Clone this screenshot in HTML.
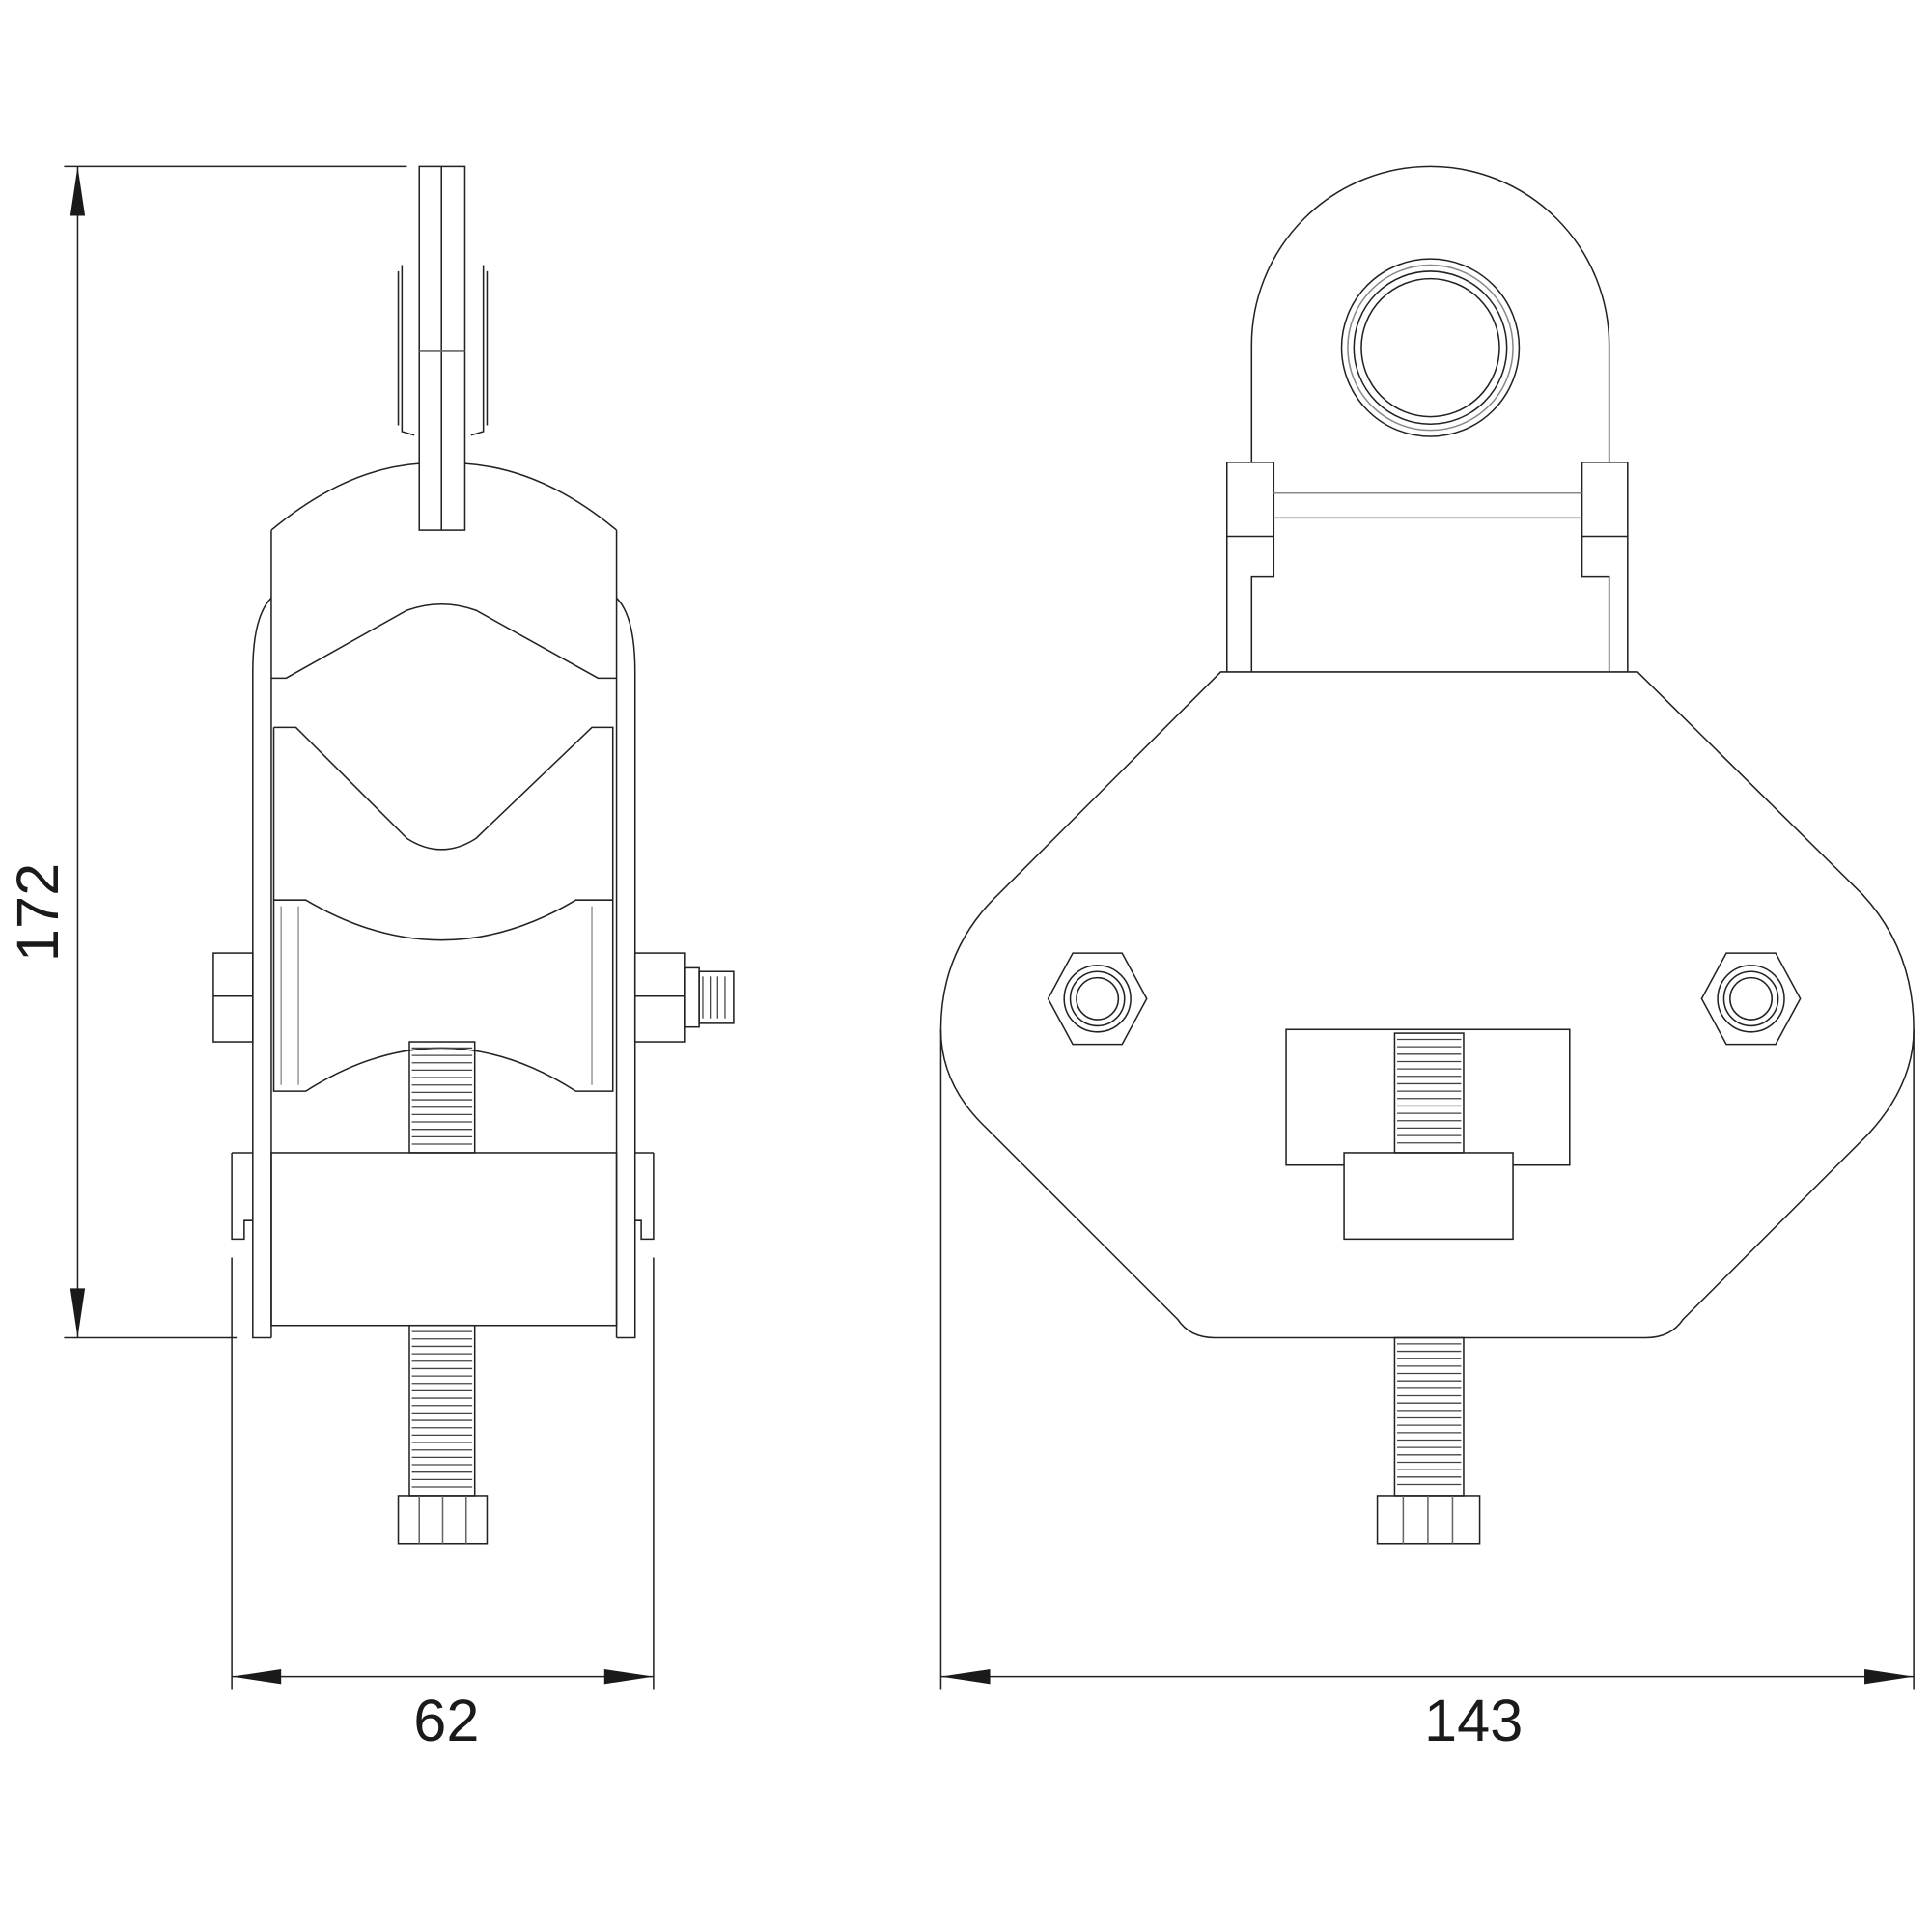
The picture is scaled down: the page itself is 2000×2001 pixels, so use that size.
<!DOCTYPE html>
<html><head><meta charset="utf-8"><style>
html,body{margin:0;padding:0;background:#fff}
svg{display:block}
text{font-family:"Liberation Sans",sans-serif;fill:#1a1a1a}
</style></head><body>
<svg width="2000" height="2001" viewBox="0 0 1566 1567" preserveAspectRatio="none" xmlns="http://www.w3.org/2000/svg">
<g fill="none" stroke="#222" stroke-width="1.2">
<line x1="52" y1="135" x2="330" y2="135"/>
<line x1="52" y1="1085" x2="192" y2="1085"/>
<line x1="63" y1="135" x2="63" y2="1085"/>
<line x1="188" y1="1020" x2="188" y2="1370"/>
<line x1="530" y1="1020" x2="530" y2="1370"/>
<line x1="188" y1="1360" x2="530" y2="1360"/>
<line x1="763" y1="835" x2="763" y2="1370"/>
<line x1="1552" y1="835" x2="1552" y2="1370"/>
<line x1="763" y1="1360" x2="1552" y2="1360"/>
</g>
<g fill="#1a1a1a">
<polygon points="63,135 57,175 69,175"/>
<polygon points="63,1085 57,1045 69,1045"/>
<polygon points="188,1360 228,1354 228,1366"/>
<polygon points="530,1360 490,1354 490,1366"/>
<polygon points="763,1360 803,1354 803,1366"/>
<polygon points="1552,1360 1512,1354 1512,1366"/>
</g>
<text x="362" y="1412" font-size="48" text-anchor="middle">62</text>
<text x="1195" y="1412" font-size="48" text-anchor="middle">143</text>
<text transform="translate(47,740) rotate(-90)" font-size="48" text-anchor="middle">172</text>

<g fill="none" stroke="#222" stroke-width="1.2">
<path d="M1015,375 L1015,280 A145,145 0 0 1 1305,280 L1305,375"/>
<circle cx="1160" cy="282" r="72"/>
<circle cx="1160" cy="282" r="67" stroke="#888"/>
<circle cx="1160" cy="282" r="62"/>
<circle cx="1160" cy="282" r="56"/>
<path d="M995,375 L1033,375 L1033,468 L1015,468 L1015,545 M995,375 L995,545 M995,435 L1033,435"/>
<path d="M1320,375 L1283,375 L1283,468 L1305,468 L1305,545 M1320,375 L1320,545 M1283,435 L1320,435"/>
<path d="M1033,400 L1283,400 M1033,420 L1283,420" stroke="#888"/>
<path d="M990,545 L1328,545 L1510,725 Q1552,770 1552,835 Q1552,880 1515,920 L1365,1070 Q1355,1085 1335,1085 L985,1085 Q965,1085 955,1070 L800,915 Q763,880 763,835 Q763,770 810,725 Z"/>
<polygon points="870,773 910,773 930,810 910,847 870,847 850,810"/>
<circle cx="890" cy="810" r="27"/><circle cx="890" cy="810" r="22"/><circle cx="890" cy="810" r="17"/>
<polygon points="1400,773 1440,773 1460,810 1440,847 1400,847 1380,810"/>
<circle cx="1420" cy="810" r="27"/><circle cx="1420" cy="810" r="22"/><circle cx="1420" cy="810" r="17"/>
<rect x="1043" y="835" width="230" height="110"/>
<rect x="1090" y="935" width="137" height="70" fill="#fff"/>
<rect x="1131" y="838" width="56" height="97"/>
<rect x="1131" y="1085" width="56" height="128"/>
<rect x="1117" y="1213" width="83" height="39"/>
<path d="M1158,1213 L1158,1252 M1138,1213 L1138,1252 M1178,1213 L1178,1252" stroke="#666"/>

<rect x="340" y="135" width="37" height="295"/>
<line x1="358" y1="135" x2="358" y2="430"/>
<line x1="340" y1="285" x2="377" y2="285" stroke="#666"/>
<path d="M326,215 L326,350 L336,353 M392,215 L392,350 L382,353"/>
<path d="M323,220 L323,345 M395,220 L395,345"/>
<path d="M220,430 Q280,380 340,376 M377,376 Q440,380 500,430"/>
<path d="M220,430 L220,1085 M500,430 L500,1085"/>
<path d="M205,545 L205,1085 L220,1085 M515,545 L515,1085 L500,1085"/>
<path d="M205,545 Q205,500 220,485 M515,545 Q515,500 500,485"/>
<path d="M220,550 L232,550 L330,495 Q358,485 386,495 L485,550 L500,550"/>
<path d="M222,590 L240,590 L330,680 Q358,698 386,680 L480,590 L497,590 L497,730 M222,590 L222,730"/>
<path d="M222,730 L248,730 Q358,795 467,730 L497,730 L497,885 L467,885 Q358,815 248,885 L222,885 Z"/>
<path d="M228,735 L228,880 M242,735 L242,880 M480,735 L480,880" stroke="#999"/>
<rect x="332" y="845" width="53" height="90"/>
<rect x="220" y="935" width="280" height="140"/>
<rect x="332" y="1075" width="53" height="138"/>
<rect x="323" y="1213" width="72" height="39"/>
<path d="M359,1213 L359,1252 M340,1213 L340,1252 M378,1213 L378,1252" stroke="#666"/>
<rect x="173" y="773" width="32" height="72"/>
<line x1="173" y1="808" x2="205" y2="808"/>
<rect x="515" y="773" width="40" height="72"/>
<line x1="515" y1="808" x2="555" y2="808"/>
<rect x="555" y="785" width="12" height="48"/>
<rect x="567" y="788" width="28" height="42"/>
<path d="M188,935 L205,935 M188,935 L188,1005 L198,1005 L198,990 L205,990 M530,935 L515,935 M530,935 L530,1005 L520,1005 L520,990 L515,990"/>
</g>
<g stroke="#444" stroke-width="1">
<path d="M334,850h49M334,856h49M334,862h49M334,868h49M334,874h49M334,880h49M334,886h49M334,892h49M334,898h49M334,904h49M334,910h49M334,916h49M334,922h49M334,928h49"/>
<path d="M334,1080h49M334,1086h49M334,1092h49M334,1098h49M334,1104h49M334,1110h49M334,1116h49M334,1122h49M334,1128h49M334,1134h49M334,1140h49M334,1146h49M334,1152h49M334,1158h49M334,1164h49M334,1170h49M334,1176h49M334,1182h49M334,1188h49M334,1194h49M334,1200h49M334,1206h49"/>
<path d="M1133,843h52M1133,849h52M1133,855h52M1133,861h52M1133,867h52M1133,873h52M1133,879h52M1133,885h52M1133,891h52M1133,897h52M1133,903h52M1133,909h52M1133,915h52M1133,921h52M1133,927h52"/>
<path d="M1133,1090h52M1133,1096h52M1133,1102h52M1133,1108h52M1133,1114h52M1133,1120h52M1133,1126h52M1133,1132h52M1133,1138h52M1133,1144h52M1133,1150h52M1133,1156h52M1133,1162h52M1133,1168h52M1133,1174h52M1133,1180h52M1133,1186h52M1133,1192h52M1133,1198h52M1133,1204h52"/>
<path d="M570,792v34M576,792v34M582,792v34M588,792v34"/>
</g>
</svg>
</body></html>
